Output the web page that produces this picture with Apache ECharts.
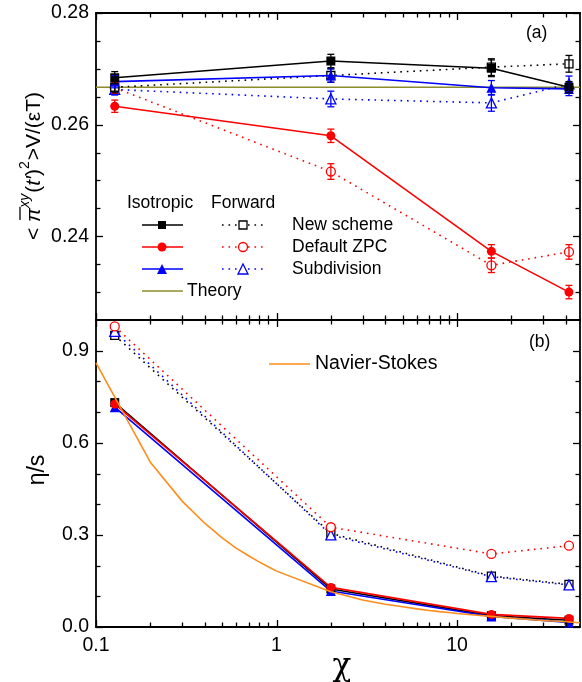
<!DOCTYPE html>
<html>
<head>
<meta charset="utf-8">
<script src="https://cdn.jsdelivr.net/npm/echarts@6/dist/echarts.min.js"></script>
<style>
  html, body { margin: 0; padding: 0; background: #fff; }
  #chart { width: 582px; height: 682px; }
</style>
</head>
<body>
<div id="chart"></div>
<script>
// ---- data ----------------------------------------------------------------
// opacity χ of the four simulated systems
const chi = [0.127, 2.0, 15.5, 41.7];

// panel (a): <π^xy(t')^2> V/(εT), with statistical errors
const isoNew    = [0.2684, 0.2714, 0.2701, 0.2667];
const isoNewErr = [0.0011, 0.0012, 0.0015, 0.0010];
const isoZpc    = [0.2633, 0.2580, 0.2373, 0.2300];
const isoZpcErr = [0.0011, 0.0012, 0.0012, 0.0012];
const isoSub    = [0.2677, 0.2688, 0.2666, 0.2664];
const isoSubErr = [0.0011, 0.0012, 0.0013, 0.0012];
const fwdNew    = [0.2667, 0.2688, 0.2703, 0.2709];
const fwdNewErr = [0.0010, 0.0012, 0.0015, 0.0015];
const fwdZpc    = [0.2666, 0.2516, 0.2348, 0.2372];
const fwdZpcErr = [0.0010, 0.0014, 0.0013, 0.0013];
const fwdSub    = [0.2663, 0.2646, 0.2639, 0.2673];
const fwdSubErr = [0.0010, 0.0014, 0.0015, 0.0014];
const theoryChi = [0.1, 48];
const theoryVal = [0.2667, 0.2667];

// panel (b): η/s
const isoNewEta = [0.731, 0.124, 0.037, 0.022];
const isoZpcEta = [0.726, 0.129, 0.041, 0.028];
const isoSubEta = [0.716, 0.117, 0.034, 0.015];
const fwdNewEta = [0.950, 0.305, 0.166, 0.139];
const fwdZpcEta = [0.979, 0.325, 0.238, 0.265];
const fwdSubEta = [0.963, 0.300, 0.164, 0.137];
const nsChi = [0.1, 0.2, 0.3, 0.4, 0.5, 0.6, 0.7, 0.8, 0.9, 1, 2, 3, 4, 5, 6, 7, 8, 9, 10, 20, 30, 40, 48];
const nsEta = [0.86, 0.537, 0.41, 0.338, 0.29, 0.256, 0.232, 0.212, 0.196, 0.182, 0.115, 0.088, 0.074,
               0.066, 0.059, 0.054, 0.050, 0.047, 0.044, 0.029, 0.021, 0.017, 0.014];

// axis ticks
const xMajorTicks = [0.1, 1, 10];
const xMinorTicks = [0.2, 0.3, 0.4, 0.5, 0.6, 0.7, 0.8, 0.9, 2, 3, 4, 5, 6, 7, 8, 9, 20, 30, 40];
const aMajorTicks = [0.24, 0.26, 0.28];
const aMinorTicks = [0.23, 0.235, 0.245, 0.25, 0.255, 0.265, 0.27, 0.275];
const bMajorTicks = [0.0, 0.3, 0.6, 0.9];
const bMinorTicks = [0.1, 0.2, 0.4, 0.5, 0.7, 0.8];

const schemeNames = ['New scheme', 'Default ZPC', 'Subdivision'];

// ---- styling ----------------------------------------------------------------
const FONT = '"Liberation Sans", Arial, Helvetica, sans-serif';
const BLACK = '#000000', RED = '#ff0000', BLUE = '#0000ff';
const OLIVE = '#8c8c2a', ORANGE = '#ff8c1a';
const X_MIN = 0.1, X_MAX = 48;
const A_MIN = 0.225, A_MAX = 0.28;
const B_MIN = 0, B_MAX = 1.0;
const DOT = [1.6, 4.9];

const pairs = (xs, ys) => xs.map((x, i) => [x, ys[i]]);

function lineSeries(grid, xs, ys, color, symbol, filled, dotted, z) {
  return {
    type: 'line',
    xAxisIndex: grid * 2, yAxisIndex: grid * 2,
    data: pairs(xs, ys),
    symbol: symbol,
    symbolSize: symbol === 'triangle' ? 10 : (symbol === 'rect' ? (filled ? 9 : 8) : 9),
    showSymbol: symbol !== 'none',
    z: z,
    lineStyle: { color: color, width: 1.6, type: dotted ? DOT : 'solid', cap: 'butt' },
    itemStyle: filled ? { color: color } : { color: '#ffffff', borderColor: color, borderWidth: 1.3 },
    emphasis: { disabled: true }
  };
}

function errorBars(xs, ys, errs, color, z) {
  return {
    type: 'custom',
    xAxisIndex: 0, yAxisIndex: 0,
    z: z,
    data: xs.map((x, i) => [x, ys[i] - errs[i], ys[i] + errs[i]]),
    encode: { x: 0, y: [1, 2] },
    renderItem: function (params, api) {
      const lo = api.coord([api.value(0), api.value(1)]);
      const hi = api.coord([api.value(0), api.value(2)]);
      const w = 3.5;
      const st = { stroke: color, lineWidth: 1.3 };
      return {
        type: 'group',
        children: [
          { type: 'line', shape: { x1: lo[0], y1: lo[1], x2: hi[0], y2: hi[1] }, style: st },
          { type: 'line', shape: { x1: lo[0] - w, y1: lo[1], x2: lo[0] + w, y2: lo[1] }, style: st },
          { type: 'line', shape: { x1: hi[0] - w, y1: hi[1], x2: hi[0] + w, y2: hi[1] }, style: st }
        ]
      };
    }
  };
}

// inward ticks on the bottom and top edges of a panel
function xTickSeries(grid, yRef) {
  const data = xMajorTicks.map(v => [v, yRef, 1]).concat(xMinorTicks.map(v => [v, yRef, 0]));
  return {
    type: 'custom',
    xAxisIndex: grid * 2, yAxisIndex: grid * 2,
    z: 10, silent: true, clip: false,
    data: data,
    encode: { x: 0, y: 1 },
    renderItem: function (params, api) {
      const cs = params.coordSys;
      const p = api.coord([api.value(0), api.value(1)]);
      const len = api.value(2) ? 7 : 4.5;
      const x = Math.round(p[0]) + 0.5;
      const st = { stroke: BLACK, lineWidth: 1.3 };
      return {
        type: 'group',
        children: [
          { type: 'line', shape: { x1: x, y1: cs.y + cs.height, x2: x, y2: cs.y + cs.height - len }, style: st },
          { type: 'line', shape: { x1: x, y1: cs.y, x2: x, y2: cs.y + len }, style: st }
        ]
      };
    }
  };
}

// inward ticks on the left and right edges of a panel
function yTickSeries(grid, major, minor) {
  const data = major.map(v => [X_MIN, v, 1]).concat(minor.map(v => [X_MIN, v, 0]));
  return {
    type: 'custom',
    xAxisIndex: grid * 2, yAxisIndex: grid * 2,
    z: 10, silent: true, clip: false,
    data: data,
    encode: { x: 0, y: 1 },
    renderItem: function (params, api) {
      const cs = params.coordSys;
      const p = api.coord([api.value(0), api.value(1)]);
      const len = api.value(2) ? 7 : 4.5;
      const y = Math.round(p[1]) + 0.5;
      const st = { stroke: BLACK, lineWidth: 1.3 };
      return {
        type: 'group',
        children: [
          { type: 'line', shape: { x1: cs.x, y1: y, x2: cs.x + len, y2: y }, style: st },
          { type: 'line', shape: { x1: cs.x + cs.width, y1: y, x2: cs.x + cs.width - len, y2: y }, style: st }
        ]
      };
    }
  };
}

const frameLine = { show: true, onZero: false, lineStyle: { color: BLACK, width: 1.8 } };

function xAxisDef(grid, position, labels) {
  return {
    type: 'log', logBase: 10, gridIndex: grid, position: position,
    min: X_MIN, max: X_MAX,
    axisLine: frameLine,
    axisTick: { show: false },
    splitLine: { show: false },
    axisLabel: {
      show: labels, color: BLACK, fontFamily: FONT, fontSize: 19.5, margin: 9,
      showMaxLabel: false,
      formatter: function (v) {
        const l = Math.log10(v);
        if (Math.abs(l - Math.round(l)) > 1e-6) return '';
        return v < 1 ? v.toFixed(1) : String(Math.round(v));
      }
    }
  };
}

function yAxisDef(grid, position, min, max, step, labelStep, digits, labels) {
  return {
    type: 'value', gridIndex: grid, position: position,
    min: min, max: max, interval: step,
    axisLine: frameLine,
    axisTick: { show: false },
    splitLine: { show: false },
    axisLabel: {
      show: labels, color: BLACK, fontFamily: FONT, fontSize: 19.5, margin: 7,
      formatter: function (v) {
        const r = v / labelStep;
        return Math.abs(r - Math.round(r)) < 1e-4 ? v.toFixed(digits) : '';
      }
    }
  };
}

// ---- legend and annotation graphics -----------------------------------------
const graphics = [];
function txt(x, y, text, size, font) {
  graphics.push({
    type: 'text', x: x, y: y, silent: true,
    style: { text: text, fill: BLACK, font: size + 'px ' + (font || FONT), align: 'left', verticalAlign: 'middle' }
  });
}
function sampleLine(x1, x2, y, color, dotted) {
  graphics.push({
    type: 'line', silent: true,
    shape: { x1: x1, y1: y, x2: x2, y2: y },
    style: { stroke: color, lineWidth: 1.6, lineDash: dotted ? DOT : null, lineCap: 'butt' }
  });
}
function sampleMarker(cx, cy, kind, color, filled) {
  const style = filled ? { fill: color } : { fill: '#ffffff', stroke: color, lineWidth: 1.3 };
  let el;
  if (kind === 'rect') el = { type: 'rect', shape: { x: cx - 4, y: cy - 4, width: 8, height: 8 } };
  else if (kind === 'circle') el = { type: 'circle', shape: { cx: cx, cy: cy, r: 4.5 } };
  else el = { type: 'polygon', shape: { points: [[cx, cy - 5], [cx + 5, cy + 5], [cx - 5, cy + 5]] } };
  el.style = style; el.silent = true; el.z = 5;
  graphics.push(el);
}

txt(127, 203, 'Isotropic', 17.5);
txt(211, 203, 'Forward', 17.5);
const rowColors = [BLACK, RED, BLUE];
const rowSymbols = ['rect', 'circle', 'triangle'];
schemeNames.forEach(function (name, i) {
  const y = 225 + i * 22;
  sampleLine(142, 183, y, rowColors[i], false);
  sampleMarker(162, y, rowSymbols[i], rowColors[i], true);
  sampleLine(222, 264, y, rowColors[i], true);
  sampleMarker(243, y, rowSymbols[i], rowColors[i], false);
  txt(292, y, name, 17.5);
});
sampleLine(142, 183, 291, OLIVE, false);
txt(187, 291, 'Theory', 17.5);
txt(526, 33, '(a)', 17.5);

// panel (b) legend + label
sampleLine(269, 310, 364, ORANGE, false);
txt(315, 364, 'Navier-Stokes', 19.5);
txt(529, 342, '(b)', 17.5);

// x axis title
graphics.push({
  type: 'text', x: 342, y: 667, silent: true,
  style: { text: 'χ', fill: BLACK, font: '31px "DejaVu Serif", "Liberation Serif", serif', align: 'center', verticalAlign: 'middle' }
});
// panel (b) y title
graphics.push({
  type: 'text', x: 38, y: 470, rotation: Math.PI / 2, silent: true,
  style: { text: 'η/s', fill: BLACK, font: '23px ' + FONT, align: 'center', verticalAlign: 'middle' }
});

// panel (a) y title, laid out piece by piece along a rotated baseline
(function () {
  const ctx = document.createElement('canvas').getContext('2d');
  const main = '21px ' + FONT;
  const ital = 'italic 21px ' + FONT;
  const sup = 'italic 14px ' + FONT;
  const supUp = '14px ' + FONT;
  const pieces = [
    { t: '<', f: main, dy: 0 },
    { t: ' ', f: main, dy: 0 },
    { t: 'π', f: ital, dy: 0, bar: true },
    { t: 'xy', f: sup, dy: -9, pad: 1 },
    { t: '(', f: main, dy: 0 },
    { t: 't′', f: ital, dy: 0 },
    { t: ')', f: main, dy: 0 },
    { t: '2', f: supUp, dy: -9, pad: 1 },
    { t: '>', f: main, dy: 0 },
    { t: 'V/(εT)', f: main, dy: 0 }
  ];
  let total = 0;
  pieces.forEach(function (p) {
    ctx.font = p.f;
    p.w = ctx.measureText(p.t).width + (p.pad || 0);
    total += p.w;
  });
  const children = [];
  let x = -total / 2;
  pieces.forEach(function (p) {
    children.push({
      type: 'text', x: x, y: p.dy,
      style: { text: p.t, font: p.f, fill: BLACK, align: 'left', verticalAlign: 'middle' }
    });
    if (p.bar) {
      children.push({
        type: 'line',
        shape: { x1: x + 2, y1: -14, x2: x + p.w + 1, y2: -14 },
        style: { stroke: BLACK, lineWidth: 1.3 }
      });
    }
    x += p.w;
  });
  graphics.push({ type: 'group', x: 34, y: 166, rotation: Math.PI / 2, silent: true, children: children });
})();

// ---- chart ---------------------------------------------------------------
const chart = echarts.init(document.getElementById('chart'), null, { renderer: 'canvas' });
chart.setOption({
  animation: false,
  backgroundColor: '#ffffff',
  grid: [
    { left: 96, top: 13, width: 484, height: 307 },
    { left: 96, top: 320, width: 484, height: 307 }
  ],
  xAxis: [
    xAxisDef(0, 'bottom', false), xAxisDef(0, 'top', false),
    xAxisDef(1, 'bottom', true), xAxisDef(1, 'top', false)
  ],
  yAxis: [
    yAxisDef(0, 'left', A_MIN, A_MAX, 0.005, 0.02, 2, true),
    yAxisDef(0, 'right', A_MIN, A_MAX, 0.005, 0.02, 2, false),
    yAxisDef(1, 'left', B_MIN, B_MAX, 0.1, 0.3, 1, true),
    yAxisDef(1, 'right', B_MIN, B_MAX, 0.1, 0.3, 1, false)
  ],
  graphic: graphics,
  series: [
    // panel (a)
    lineSeries(0, theoryChi, theoryVal, OLIVE, 'none', true, false, 2),
    lineSeries(0, chi, fwdSub, BLUE, 'triangle', false, true, 3),
    lineSeries(0, chi, fwdZpc, RED, 'circle', false, true, 3),
    lineSeries(0, chi, fwdNew, BLACK, 'rect', false, true, 3),
    lineSeries(0, chi, isoSub, BLUE, 'triangle', true, false, 4),
    lineSeries(0, chi, isoZpc, RED, 'circle', true, false, 4),
    lineSeries(0, chi, isoNew, BLACK, 'rect', true, false, 4),
    errorBars(chi, fwdSub, fwdSubErr, BLUE, 5),
    errorBars(chi, fwdZpc, fwdZpcErr, RED, 5),
    errorBars(chi, fwdNew, fwdNewErr, BLACK, 5),
    errorBars(chi, isoSub, isoSubErr, BLUE, 5),
    errorBars(chi, isoZpc, isoZpcErr, RED, 5),
    errorBars(chi, isoNew, isoNewErr, BLACK, 5),
    // panel (b)
    lineSeries(1, chi, fwdNewEta, BLACK, 'rect', false, true, 3),
    lineSeries(1, chi, fwdSubEta, BLUE, 'triangle', false, true, 3),
    lineSeries(1, chi, fwdZpcEta, RED, 'circle', false, true, 3),
    lineSeries(1, chi, isoNewEta, BLACK, 'rect', true, false, 4),
    lineSeries(1, chi, isoSubEta, BLUE, 'triangle', true, false, 4),
    lineSeries(1, chi, isoZpcEta, RED, 'circle', true, false, 4),
    lineSeries(1, nsChi, nsEta, ORANGE, 'none', true, false, 5),
    // ticks
    xTickSeries(0, A_MIN + 0.01), xTickSeries(1, 0.5),
    yTickSeries(0, aMajorTicks, aMinorTicks), yTickSeries(1, bMajorTicks, bMinorTicks)
  ]
});
</script>
</body>
</html>
